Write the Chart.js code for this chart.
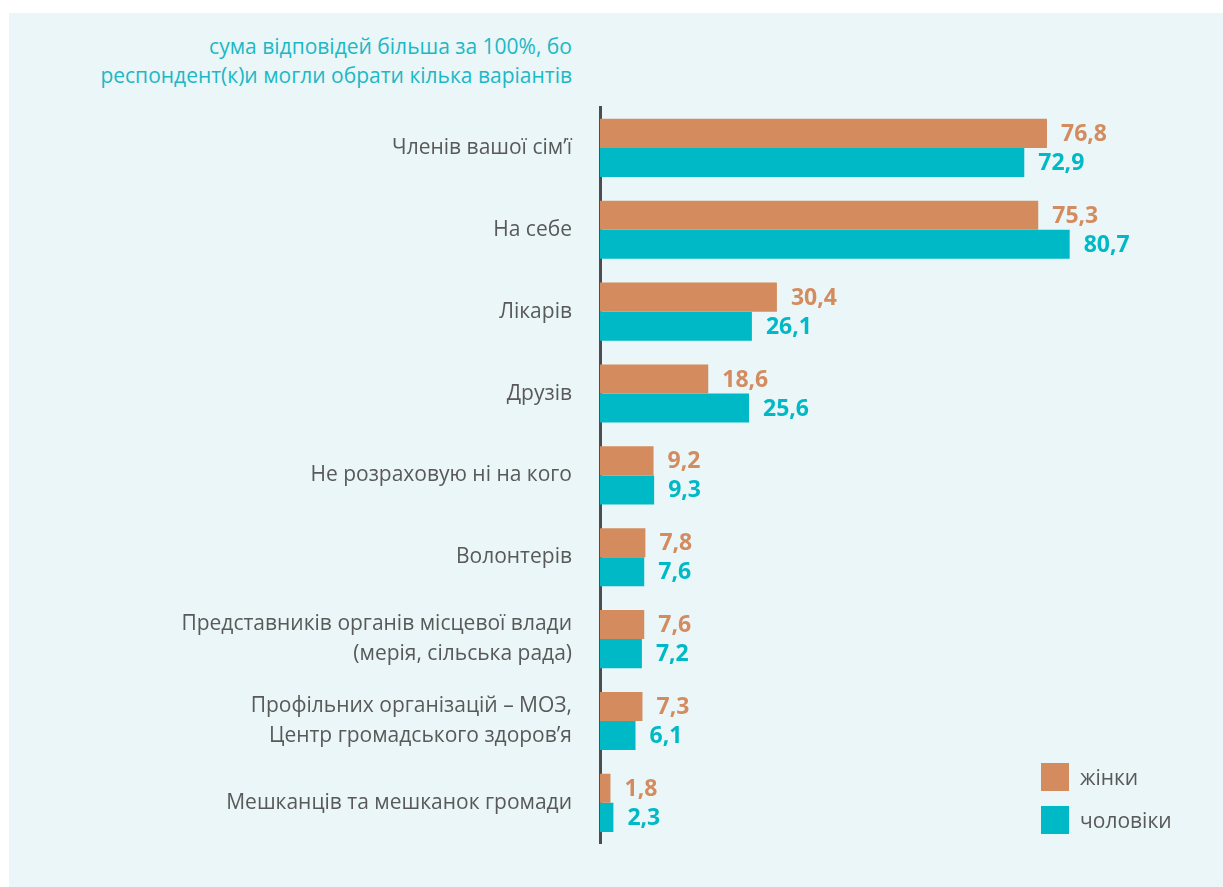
<!DOCTYPE html>
<html lang="uk">
<head>
    <meta charset="UTF-8">
    <title>На кого розраховують</title>
    <script src="https://cdn.jsdelivr.net/npm/chart.js"></script>
    <style>
        :root {
            --panel-color: #eaf6f8;
            --text-color: #595959;
        }
        body {
            margin: 0;
            padding: 0;
            background-color: #ffffff;
            font-family: 'Open Sans', sans-serif;
            width: 1223px;
            height: 887px;
            overflow: hidden;
            position: relative;
        }
        .panel {
            position: absolute;
            left: 9px;
            top: 13px;
            right: 0;
            bottom: 0;
            background-color: var(--panel-color);
        }
        .note {
            position: absolute;
            right: calc(1223px - 572px);
            top: 32px;
            text-align: right;
            color: #1cb8c6;
            font-size: 21px;
            line-height: 29px;
        }
        .chart-box {
            position: absolute;
            left: 0;
            top: 0;
            width: 1223px;
            height: 887px;
        }
        .legend {
            position: absolute;
            left: 1041px;
            top: 763px;
            list-style: none;
            margin: 0;
            padding: 0;
        }
        .legend li {
            display: flex;
            align-items: center;
            height: 28px;
            margin-bottom: 15px;
            color: var(--text-color);
            font-size: 21px;
        }
        .legend span {
            display: inline-block;
            width: 28px;
            height: 28px;
            margin-right: 11px;
        }
    </style>
</head>
<body>
    <div class="panel"></div>
    <div class="note">сума відповідей більша за 100%, бо<br>респондент(к)и могли обрати кілька варіантів</div>
    <div class="chart-box">
        <canvas id="supportChart" width="1223" height="887"></canvas>
    </div>
    <ul class="legend" id="legend"></ul>
    <script>
        const categories = [
            'Членів вашої сім’ї',
            'На себе',
            'Лікарів',
            'Друзів',
            'Не розраховую ні на кого',
            'Волонтерів',
            ['Представників органів місцевої влади', '(мерія, сільська рада)'],
            ['Профільних організацій – МОЗ,', 'Центр громадського здоров’я'],
            'Мешканців та мешканок громади'
        ];
        const seriesNames = ['жінки', 'чоловіки'];
        const women = [76.8, 75.3, 30.4, 18.6, 9.2, 7.8, 7.6, 7.3, 1.8];
        const men = [72.9, 80.7, 26.1, 25.6, 9.3, 7.6, 7.2, 6.1, 2.3];

        const colors = ['#d48c5f', '#00b9c6'];

        // підписи значень праворуч від смуг
        const valueLabels = {
            id: 'valueLabels',
            afterDatasetsDraw(chart) {
                const ctx = chart.ctx;
                ctx.save();
                ctx.font = 'bold 23px "Open Sans", sans-serif';
                ctx.textAlign = 'left';
                ctx.textBaseline = 'middle';
                chart.data.datasets.forEach(function(ds, i) {
                    const meta = chart.getDatasetMeta(i);
                    ctx.fillStyle = ds.backgroundColor;
                    meta.data.forEach(function(bar, j) {
                        const text = ds.data[j].toFixed(1).replace('.', ',');
                        ctx.fillText(text, bar.x + 14, bar.y + 1);
                    });
                });
                ctx.restore();
            }
        };

        const ctx = document.getElementById('supportChart').getContext('2d');
        new Chart(ctx, {
            type: 'bar',
            data: {
                labels: categories,
                datasets: [{
                    label: seriesNames[0],
                    data: women,
                    backgroundColor: colors[0]
                }, {
                    label: seriesNames[1],
                    data: men,
                    backgroundColor: colors[1]
                }]
            },
            options: {
                indexAxis: 'y',
                responsive: false,
                animation: false,
                devicePixelRatio: 1,
                categoryPercentage: 0.71,
                barPercentage: 1,
                layout: {
                    padding: { top: 107, bottom: 42, left: 0, right: 41 }
                },
                scales: {
                    x: {
                        display: false,
                        min: 0,
                        max: 100
                    },
                    y: {
                        afterFit: function(scale) {
                            scale.width = 600;
                        },
                        grid: {
                            display: false,
                            drawTicks: false
                        },
                        border: {
                            display: true,
                            color: '#4d4d4d',
                            width: 3
                        },
                        ticks: {
                            padding: 28,
                            color: '#595959',
                            font: { family: 'Open Sans', size: 21, lineHeight: 1.45 }
                        }
                    }
                },
                plugins: {
                    legend: { display: false },
                    tooltip: { enabled: false }
                }
            },
            plugins: [valueLabels]
        });

        // легенда
        const legend = document.getElementById('legend');
        seriesNames.forEach(function(name, i) {
            const li = document.createElement('li');
            const box = document.createElement('span');
            box.style.backgroundColor = colors[i];
            li.appendChild(box);
            li.appendChild(document.createTextNode(name));
            legend.appendChild(li);
        });
    </script>
</body>
</html>
